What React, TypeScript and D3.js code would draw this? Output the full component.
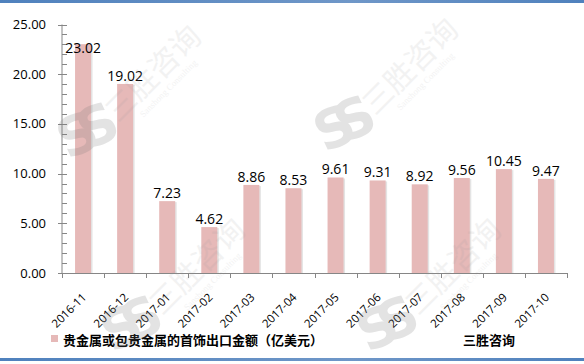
import React from 'react';
import * as d3 from 'd3';

const months = ['2016-11', '2016-12', '2017-01', '2017-02', '2017-03', '2017-04', '2017-05', '2017-06', '2017-07', '2017-08', '2017-09', '2017-10'];
const exportValues = [23.02, 19.02, 7.23, 4.62, 8.86, 8.53, 9.61, 9.31, 8.92, 9.56, 10.45, 9.47];
const yTicks = [0, 5, 10, 15, 20, 25];
const seriesName = '贵金属或包贵金属的首饰出口金额（亿美元）';
const sourceName = '三胜咨询';

const W = 584;
const H = 364;
const barColor = '#e6b9b8';
const axisColor = '#868686';
const numFont = '"Open Sans", "Liberation Sans", sans-serif';
const cjkFont = '"Noto Sans CJK SC", sans-serif';

// watermark spots (logo position)
const marks = [[83, 137], [340, 130], [127, 330], [383, 330]];

const Watermark = ({ x, y }: { x: number; y: number }) => (
  <g opacity={0.2} pointerEvents="none">
    <text x={x} y={y} transform={`rotate(-25, ${x}, ${y})`} textAnchor="middle" dominantBaseline="middle"
      fontFamily="Arial Black, DejaVu Sans, sans-serif" fontWeight="bold" fontSize={54} letterSpacing={-14} fill="#777">SS</text>
    <g transform={`translate(${x + 72}, ${y - 62}) rotate(-45)`}>
      <text textAnchor="middle" dominantBaseline="middle" fontFamily={cjkFont} fontSize={30} fill="#999" opacity={0.6}>{sourceName}</text>
      <text y={22} textAnchor="middle" fontFamily="Liberation Serif, serif" fontSize={9} fill="#999" opacity={0.6}>Sanshong Consulting</text>
    </g>
  </g>
);

export default function App() {
  const x = d3.scaleBand<string>().domain(months).range([62, 567]).paddingInner(0.62).paddingOuter(0.31);
  const y = d3.scaleLinear().domain([0, 25]).range([273, 24.5]);
  const band = d3.scaleBand<string>().domain(months).range([62, 567]);
  const minor = d3.range(0, 25, 1).filter(v => v % 5 !== 0);
  const bounds = d3.range(0, months.length + 1).map(i => 62 + i * band.step());

  return (
    <svg width={W} height={H} style={{ position: 'absolute', left: 0, top: 0, background: '#fff' }}>
      <defs>
        <linearGradient id="frame" x1="0" x2="1" y1="0" y2="0">
          <stop offset="0" stopColor="#4f81bd" />
          <stop offset="0.6" stopColor="#6f97c8" />
          <stop offset="1" stopColor="#4f81bd" />
        </linearGradient>
      </defs>
      <rect x={0} y={0} width={W} height={H} fill="#fff" />
      <rect x={0} y={0} width={W} height={3} fill="url(#frame)" />
      <rect x={0} y={358} width={W} height={3} fill="url(#frame)" />

      {/* bars */}
      {exportValues.map((v, i) => {
        const bx = x(months[i])!;
        return (
          <g key={months[i]}>
            <rect x={bx + 1.5} y={y(v) + 1} width={x.bandwidth()} height={y(0) - y(v) - 1} fill="#e4e4e4" />
            <rect x={bx} y={y(v)} width={x.bandwidth()} height={y(0) - y(v)} fill={barColor} />
          </g>
        );
      })}

      {/* y axis */}
      <line x1={62} x2={62} y1={y(25)} y2={y(0)} stroke={axisColor} />
      {yTicks.map(t => (
        <g key={t}>
          <line x1={58} x2={67} y1={Math.round(y(t)) + 0.5} y2={Math.round(y(t)) + 0.5} stroke={axisColor} />
          <text x={46} y={y(t)} dy="0.35em" textAnchor="end" fontFamily={numFont} fontSize={13} fill="#000">{t.toFixed(2)}</text>
        </g>
      ))}
      {minor.map(t => (
        <line key={t} x1={62} x2={67} y1={Math.round(y(t)) + 0.5} y2={Math.round(y(t)) + 0.5} stroke={axisColor} />
      ))}

      {/* x axis */}
      <line x1={62} x2={567} y1={273.5} y2={273.5} stroke={axisColor} />
      {bounds.map((b, i) => (
        <line key={i} x1={Math.round(b) + 0.5} x2={Math.round(b) + 0.5} y1={273} y2={278} stroke={axisColor} />
      ))}
      {months.map(m => {
        const cx = band(m)! + band.bandwidth() / 2;
        return (
          <text key={m} transform={`translate(${cx + 4}, 298) rotate(-45)`} textAnchor="end"
            fontFamily={numFont} fontSize={11.5} fill="#000">{m}</text>
        );
      })}

      {/* value labels */}
      {exportValues.map((v, i) => (
        <text key={i} x={x(months[i])! + x.bandwidth() / 2} y={Math.max(y(v) - 3, 53)} textAnchor="middle"
          fontFamily={numFont} fontSize={14} fill="#000">{v.toFixed(2)}</text>
      ))}

      {/* legend */}
      <rect x={51} y={335} width={7} height={7} fill={barColor} />
      <text x={63} y={345} fontFamily={cjkFont} fontWeight="bold" fontSize={13} fill="#000">{seriesName}</text>
      <text x={463} y={345} fontFamily={cjkFont} fontWeight="bold" fontSize={13} fill="#000">{sourceName}</text>

      {marks.map(([mx, my], i) => <Watermark key={i} x={mx} y={my} />)}
    </svg>
  );
}
